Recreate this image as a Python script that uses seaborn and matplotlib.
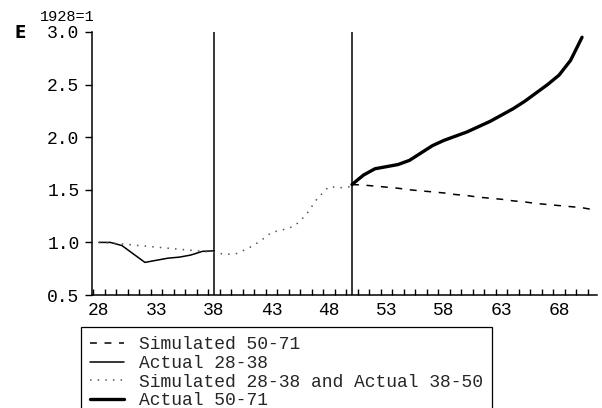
import numpy as np
import pandas as pd
import matplotlib
matplotlib.use("Agg")
import matplotlib.pyplot as plt
from matplotlib.ticker import FixedLocator, FixedFormatter
import seaborn as sns

# --- data (index, 1928 = 1) ---
years_sim_50_71 = list(range(50, 72))
sim_50_71 = [1.55, 1.545, 1.535, 1.525, 1.515, 1.50, 1.49, 1.48, 1.47, 1.455, 1.445,
             1.43, 1.42, 1.41, 1.395, 1.385, 1.37, 1.36, 1.35, 1.34, 1.33, 1.31]

years_act_28_38 = list(range(28, 39))
act_28_38 = [1.00, 1.00, 0.97, 0.89, 0.81, 0.83, 0.85, 0.86, 0.88, 0.915, 0.92]

years_sim_28_50 = list(range(28, 51))
sim_28_38_act_38_50 = [1.00, 0.995, 0.985, 0.975, 0.965, 0.955, 0.945, 0.935, 0.925,
                       0.915, 0.905, 0.885, 0.895, 0.945, 1.01, 1.095, 1.12, 1.155,
                       1.26, 1.42, 1.53, 1.52, 1.53]

years_act_50_71 = list(range(50, 71))
act_50_71 = [1.55, 1.64, 1.70, 1.72, 1.74, 1.78, 1.85, 1.92, 1.97, 2.01, 2.05,
             2.10, 2.15, 2.21, 2.27, 2.34, 2.42, 2.50, 2.59, 2.73, 2.95]

break_years = [38, 50]
x_tick_labels = [28, 33, 38, 43, 48, 53, 58, 63, 68]
y_ticks = [0.5, 1.0, 1.5, 2.0, 2.5, 3.0]

labels = ["Simulated 50-71", "Actual 28-38",
          "Simulated 28-38 and Actual 38-50", "Actual 50-71"]

sns.set_theme(style="ticks")
plt.rcParams["font.family"] = ["Liberation Mono", "DejaVu Sans"]

fig = plt.figure(figsize=(6.02, 4.08), dpi=100)
ax = fig.add_axes([92 / 602, 1 - 295 / 408, (597 - 92) / 602, (295 - 32) / 408])

mono = "Liberation Mono"

sns.lineplot(x=years_sim_50_71, y=sim_50_71, ax=ax, color="black", lw=1.1,
             linestyle=(0, (4.5, 5)), label=labels[0])
sns.lineplot(x=years_act_28_38, y=act_28_38, ax=ax, color="black", lw=1.1,
             label=labels[1])
sns.lineplot(x=years_sim_28_50, y=sim_28_38_act_38_50, ax=ax, color="#555555",
             lw=1.1, linestyle=(0, (1, 4)), label=labels[2])
sns.lineplot(x=years_act_50_71, y=act_50_71, ax=ax, color="black", lw=2.4,
             label=labels[3])

for yr in break_years:
    ax.axvline(yr, color="black", lw=1.1, zorder=1)

ax.set_xlim(27.4, 71.3)
ax.set_ylim(0.5, 3.0)

# x axis: year labels, with small inward ticks between years
ax.xaxis.set_major_locator(FixedLocator(x_tick_labels))
ax.xaxis.set_major_formatter(FixedFormatter([str(v) for v in x_tick_labels]))
ax.xaxis.set_minor_locator(FixedLocator(np.arange(27.5, 71, 1.0)))
ax.tick_params(axis="x", which="major", bottom=False, length=0, pad=5, labelsize=13)
ax.tick_params(axis="x", which="minor", bottom=True, direction="in", length=4,
               width=1.0, color="black")

ax.yaxis.set_major_locator(FixedLocator(y_ticks))
ax.yaxis.set_major_formatter(FixedFormatter([f"{v:.1f}" for v in y_ticks]))
ax.yaxis.set_minor_locator(FixedLocator([]))
ax.tick_params(axis="y", which="major", left=True, direction="out", length=5,
               width=1.0, color="black", pad=4, labelsize=13)
for lab in ax.get_xticklabels() + ax.get_yticklabels():
    lab.set_fontfamily(mono)
    lab.set_color("black")

sns.despine(ax=ax, top=True, right=True)
for side in ("left", "bottom"):
    ax.spines[side].set_color("black")
    ax.spines[side].set_linewidth(1.1)
ax.set_xlabel("")
ax.set_ylabel("")

fig.text(14 / 602, 1 - 33 / 408, "E", family="DejaVu Sans", fontsize=12,
         fontweight="bold", ha="left", va="center", color="black")
fig.text(40 / 602, 1 - 17 / 408, "1928=1", family=mono, fontsize=11,
         ha="left", va="center", color="black")

ax.get_legend().remove()
handles, _ = ax.get_legend_handles_labels()
leg = fig.legend(handles, labels, loc="upper left",
                 bbox_to_anchor=(81 / 602, 1 - 327 / 408),
                 prop={"family": mono, "size": 13}, frameon=True, fancybox=False,
                 edgecolor="black", framealpha=1, handlelength=1.9,
                 handletextpad=0.8, labelspacing=0.1, borderpad=0.5,
                 borderaxespad=0)
leg.get_frame().set_linewidth(0.9)

fig.savefig("out.png", dpi=100)
